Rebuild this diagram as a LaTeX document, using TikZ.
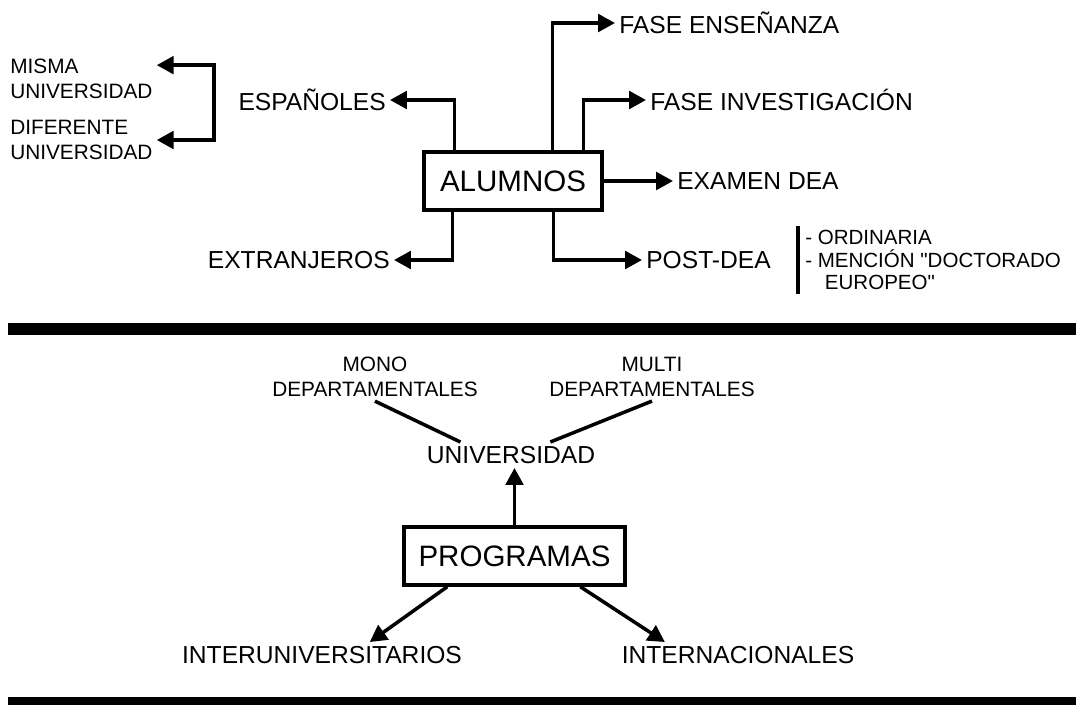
\documentclass[tikz,border=0pt]{standalone}
\usepackage{fontspec}
\setmainfont{Liberation Sans}
\usetikzlibrary{arrows.meta,calc}
\newcommand{\bigtxt}{\fontsize{21}{25}\selectfont}
\newcommand{\midtxt}{\fontsize{17.5}{21}\selectfont}
\newcommand{\smalltxt}{\fontsize{14.8}{17.8}\selectfont}
\newcommand{\thickbar}[1]{
\fill (8,#1) rectangle (1076,#1+12)
}
\begin{document}
\begin{tikzpicture}[x=0.25mm, y=-0.25mm,
	wire/.style={line width=2.5pt},
	conn/.style={wire, -{Triangle[length=12pt,width=12.5pt]}},
	twoway/.style={wire, {Triangle[length=12pt,width=12.5pt]}-{Triangle[length=12pt,width=12.5pt]}},
	box/.style={draw, line width=2.4pt, minimum height=14.5mm, font=\bigtxt},
	lbl/.style={inner sep=1mm, font=\midtxt},
	small/.style={inner sep=1mm, font=\smalltxt, align=left}]
\useasboundingbox (0,0) rectangle (1079,704);

\node [box, minimum width=44.5mm] (alumnos) at (513,181) {ALUMNOS};
\node [lbl, anchor=east] (espanoles) at (390,100) {ESPAÑOLES};
\node [lbl, anchor=west] (ensenanza) at (615,23) {FASE ENSEÑANZA};
\node [lbl, anchor=west] (investigacion) at (646,100) {FASE INVESTIGACIÓN};
\node [lbl, anchor=west] (examen) at (673,181) {EXAMEN DEA};
\node [lbl, anchor=east] (extranjeros) at (394,260) {EXTRANJEROS};
\node [lbl, anchor=west] (postdea) at (642,260) {POST-DEA};
\node [small, anchor=west] (misma) at (6,78.5) {MISMA\\UNIVERSIDAD};
\node [small, anchor=west] (diferente) at (6,140) {DIFERENTE\\UNIVERSIDAD};
\node [small, anchor=west, font=\fontsize{14.6}{16}\selectfont] (modos) at (801,260)
	{- ORDINARIA\\- MENCIÓN \textquotedbl DOCTORADO\\\hspace*{14pt}EUROPEO\textquotedbl};

\draw [conn] ($(alumnos.north west)+(32,0)$) |- (espanoles.east);
\draw [conn] ($(alumnos.north west)+(130,0)$) |- (ensenanza.west);
\draw [conn] ($(alumnos.north west)+(161,0)$) |- (investigacion.west);
\draw [conn] (alumnos.east) -- (examen.west);
\draw [conn] ($(alumnos.south west)+(30,0)$) |- (extranjeros.east);
\draw [conn] ($(alumnos.south west)+(131,0)$) |- (postdea.west);
\draw [twoway] ([yshift=9.5pt]misma.east) -- ++(57,0) |- (diferente.east);
\draw [wire] ([xshift=-2pt]modos.north west) -- ([xshift=-2pt]modos.south west);

\thickbar{323};

\node [lbl] (universidad) at (511,455) {UNIVERSIDAD};
\node [small, align=center] (mono) at (375,377) {MONO\\DEPARTAMENTALES};
\node [small, align=center] (multi) at (652,377) {MULTI\\DEPARTAMENTALES};
\node [box, minimum width=55.25mm] (programas) at (514.5,556) {PROGRAMAS};
\node [lbl] (interuniv) at (322,655) {INTERUNIVERSITARIOS};
\node [lbl] (internac) at (738,655) {INTERNACIONALES};

\draw [wire] (mono.south) -- ([xshift=-36pt]universidad.north);
\draw [wire] (multi.south) -- ([xshift=28pt]universidad.north);
\draw [conn] (programas.north) -- (programas.north |- universidad.south);
\draw [conn] ([xshift=32pt]programas.south west) -- ([xshift=34pt]interuniv.north);
\draw [conn] ([xshift=-33pt]programas.south east) -- ([xshift=-52pt]internac.north);

\thickbar{697};
\end{tikzpicture}
\end{document}
